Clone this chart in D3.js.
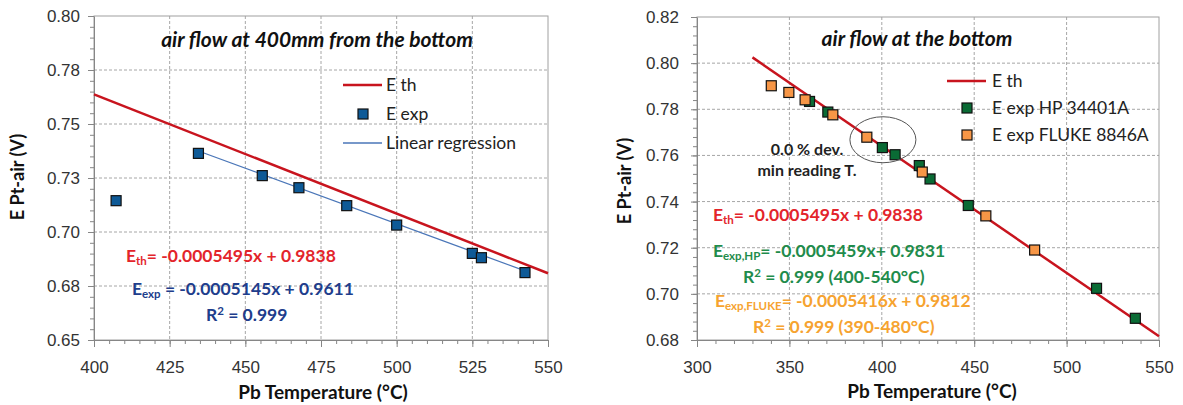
<!DOCTYPE html>
<html>
<head>
<meta charset="utf-8">
<script src="https://cdn.jsdelivr.net/npm/d3@7"></script>
<style>
  body { margin: 0; background: #fff; }
  svg { font-family: Lato, "Open Sans", sans-serif; }
  .grid line { stroke: #a6a6a6; stroke-dasharray: 3,2; }
  .axis path, .axis line { stroke: #868686; }
  .axis text { fill: #333; font-size: 17px; }
</style>
</head>
<body>
<svg width="1183" height="405"></svg>
<script>
d3.select(window).on('load', init);

//------------------------------------------------------------------------------
// left chart: air flow at 400mm from the bottom
var leftXTicks = [400, 425, 450, 475, 500, 525, 550];
var leftYTicks = [0.65, 0.675, 0.70, 0.725, 0.75, 0.775, 0.80];
var leftYLabels = ["0.65", "0.68", "0.70", "0.73", "0.75", "0.78", "0.80"];

var leftThT = [400, 550];
var leftThE = [0.7637, 0.6809];
var leftRegT = [434.5, 542.4];
var leftRegE = [0.7375, 0.6820];
var leftExpT = [407.3, 434.5, 455.6, 467.7, 483.5, 500.0, 525.0, 528.0, 542.4];
var leftExpE = [0.7145, 0.7364, 0.7261, 0.7205, 0.7122, 0.7032, 0.6901, 0.6881, 0.6812];

// right chart: air flow at the bottom
var rightXTicks = [300, 350, 400, 450, 500, 550];
var rightYTicks = [0.68, 0.70, 0.72, 0.74, 0.76, 0.78, 0.80, 0.82];
var rightYLabels = ["0.68", "0.70", "0.72", "0.74", "0.76", "0.78", "0.80", "0.82"];

var rightThT = [330, 550];
var rightThE = [0.8025, 0.6816];
var hpT = [360.9, 370.8, 400.3, 407.2, 420.3, 426.1, 446.8, 516.2, 537.2];
var hpE = [0.7834, 0.7788, 0.7634, 0.7603, 0.7556, 0.7498, 0.7383, 0.7024, 0.6894];
var flukeT = [340.2, 349.7, 358.5, 373.5, 391.9, 421.9, 456.3, 482.7];
var flukeE = [0.7902, 0.7873, 0.7841, 0.7776, 0.7679, 0.7528, 0.7338, 0.7190];
var circleT = 400.6, circleE = 0.7668;
//------------------------------------------------------------------------------

var red = "#c8141e", redText = "#e3242b";
var blueMarker = "#0e5a97", blueText = "#203d8c", regColor = "#4a76b8";
var green = "#0a6b35", greenText = "#1f8c4c";
var orange = "#f79646", orangeText = "#f6a330";

var svg;

function init() {
    svg = d3.select('svg');

    // ---- left chart
    var L = makeFrame({x0: 94, x1: 548, y0: 16, y1: 340},
        [400, 550], [0.65, 0.80], leftXTicks, leftYTicks, leftYLabels,
        d3.range(400, 551, 5), d3.range(0, 31).map(function(i){ return 0.65 + i*0.005; }), 14);

    L.g.append("line")
        .attr("x1", L.x(leftThT[0])).attr("y1", L.y(leftThE[0]))
        .attr("x2", L.x(leftThT[1])).attr("y2", L.y(leftThE[1]))
        .attr("stroke", red).attr("stroke-width", 2.5);

    L.g.append("line")
        .attr("x1", L.x(leftRegT[0])).attr("y1", L.y(leftRegE[0]))
        .attr("x2", L.x(leftRegT[1])).attr("y2", L.y(leftRegE[1]))
        .attr("stroke", regColor).attr("stroke-width", 1.3);

    drawMarkers(L, leftExpT, leftExpE, blueMarker);

    title(317, 47, "air flow at 400mm from the bottom");
    axisTitles(323, 399, 24, 177);

    // legend
    legendLine(343, 382, 85, red, 2.5);
    legendText(386, 85, "E th");
    legendSquare(363, 114, blueMarker);
    legendText(386, 114, "E exp");
    legendLine(343, 382, 143, regColor, 1.3);
    legendText(386, 143, "Linear regression");

    // equations
    equation(126, 262, redText, "E", "th", "= -0.0005495x + 0.9838");
    equation(132, 295, blueText, "E", "exp", " = -0.0005145x + 0.9611");
    rSquared(206, 321, blueText, " = 0.999");

    // ---- right chart
    var R = makeFrame({x0: 697, x1: 1159, y0: 17, y1: 340},
        [300, 550], [0.68, 0.82], rightXTicks, rightYTicks, rightYLabels,
        d3.range(300, 551, 10), d3.range(0, 36).map(function(i){ return 0.68 + i*0.004; }), 18);

    R.g.append("line")
        .attr("x1", R.x(rightThT[0])).attr("y1", R.y(rightThE[0]))
        .attr("x2", R.x(rightThT[1])).attr("y2", R.y(rightThE[1]))
        .attr("stroke", red).attr("stroke-width", 2.5);

    drawMarkers(R, hpT, hpE, green);
    drawMarkers(R, flukeT, flukeE, orange);

    R.g.append("ellipse")
        .attr("cx", R.x(circleT)).attr("cy", R.y(circleE))
        .attr("rx", 33).attr("ry", 23)
        .attr("fill", "none").attr("stroke", "#555").attr("stroke-width", 1);

    svg.append("text").attr("x", 807).attr("y", 155).attr("text-anchor", "middle")
        .attr("font-size", 16).attr("font-weight", "bold").attr("fill", "#222")
        .text("0.0 % dev.");
    svg.append("text").attr("x", 807).attr("y", 176).attr("text-anchor", "middle")
        .attr("font-size", 16).attr("font-weight", "bold").attr("fill", "#222")
        .text("min reading T.");

    title(917, 46, "air flow at the bottom");
    axisTitles(932, 398, 631, 181);

    legendLine(947, 986, 81, red, 2.5);
    legendText(992, 81, "E th");
    legendSquare(967, 108, green);
    legendText(992, 108, "E exp HP 34401A");
    legendSquare(967, 135, orange);
    legendText(992, 135, "E exp FLUKE 8846A");

    equation(713, 221, redText, "E", "th", "= -0.0005495x + 0.9838");
    equation(713, 257, greenText, "E", "exp,HP", "= -0.0005459x+ 0.9831");
    rSquared(743, 283, greenText, " = 0.999 (400-540°C)");
    equation(715, 307, orangeText, "E", "exp,FLUKE", "= -0.0005416x + 0.9812");
    rSquared(753, 333, orangeText, " = 0.999 (390-480°C)");
}

//---------------------------------------------------------------------
// frame with grid, border and axes
function makeFrame(box, xDom, yDom, xTicks, yTicks, yLabels, xMinor, yMinor, yPad) {
    var x = d3.scaleLinear().domain(xDom).range([box.x0, box.x1]);
    var y = d3.scaleLinear().domain(yDom).range([box.y1, box.y0]);
    var g = svg.append("g");

    g.append("g").attr("class", "grid")
     .selectAll("line.v")
     .data(xTicks.slice(1, -1))
     .enter().append("line")
     .attr("x1", function(d){ return x(d); }).attr("x2", function(d){ return x(d); })
     .attr("y1", box.y0).attr("y2", box.y1);

    g.append("g").attr("class", "grid")
     .selectAll("line.h")
     .data(yTicks.slice(1, -1))
     .enter().append("line")
     .attr("y1", function(d){ return y(d); }).attr("y2", function(d){ return y(d); })
     .attr("x1", box.x0).attr("x2", box.x1);

    g.append("rect")
     .attr("x", box.x0).attr("y", box.y0)
     .attr("width", box.x1 - box.x0).attr("height", box.y1 - box.y0)
     .attr("fill", "none").attr("stroke", "#a0a0a0");

    // minor ticks
    g.append("g").attr("class", "axis")
     .attr("transform", "translate(0," + box.y1 + ")")
     .call(d3.axisBottom(x).tickValues(xMinor).tickSize(4).tickFormat(""))
     .select(".domain").remove();
    g.append("g").attr("class", "axis")
     .attr("transform", "translate(" + box.x0 + ",0)")
     .call(d3.axisLeft(y).tickValues(yMinor).tickSize(4).tickFormat(""))
     .select(".domain").remove();

    g.append("g").attr("class", "axis")
     .attr("transform", "translate(0," + box.y1 + ")")
     .call(d3.axisBottom(x).tickValues(xTicks).tickSize(7).tickPadding(14)
        .tickFormat(d3.format("d")).tickSizeOuter(0));
    g.append("g").attr("class", "axis")
     .attr("transform", "translate(" + box.x0 + ",0)")
     .call(d3.axisLeft(y).tickValues(yTicks).tickSize(6).tickPadding(yPad - 6)
        .tickFormat(function(d, i){ return yLabels[i]; }).tickSizeOuter(0));

    return {x: x, y: y, g: g};
}

function drawMarkers(c, ts, es, fill) {
    c.g.append("g")
     .selectAll("rect")
     .data(ts.map(function(t, i){ return {t: t, e: es[i]}; }))
     .enter().append("rect")
     .attr("x", function(d){ return c.x(d.t) - 5; })
     .attr("y", function(d){ return c.y(d.e) - 5; })
     .attr("width", 10).attr("height", 10)
     .attr("fill", fill).attr("stroke", "#111").attr("stroke-width", 1.2);
}

function title(x, y, txt) {
    svg.append("text").attr("x", x).attr("y", y).attr("text-anchor", "middle")
       .attr("font-size", 21).attr("font-weight", "bold").attr("font-style", "italic")
       .attr("fill", "#111").text(txt);
}

function axisTitles(xx, xy, yx, yy) {
    svg.append("text").attr("x", xx).attr("y", xy).attr("text-anchor", "middle")
       .attr("font-size", 19).attr("font-weight", "bold").attr("fill", "#111")
       .text("Pb Temperature (°C)");
    svg.append("text").attr("transform", "translate(" + yx + "," + yy + ") rotate(-90)")
       .attr("text-anchor", "middle")
       .attr("font-size", 18).attr("font-weight", "bold").attr("fill", "#111")
       .text("E Pt-air (V)");
}

function legendLine(x1, x2, y, col, w) {
    svg.append("line").attr("x1", x1).attr("x2", x2).attr("y1", y).attr("y2", y)
       .attr("stroke", col).attr("stroke-width", w);
}
function legendSquare(x, y, col) {
    svg.append("rect").attr("x", x - 5).attr("y", y - 5).attr("width", 10).attr("height", 10)
       .attr("fill", col).attr("stroke", "#111").attr("stroke-width", 1.2);
}
function legendText(x, y, txt) {
    svg.append("text").attr("x", x).attr("y", y).attr("dy", "0.36em")
       .attr("font-size", 17.5).attr("fill", "#222").text(txt);
}

function equation(x, y, col, main, sub, rest) {
    var t = svg.append("text").attr("x", x).attr("y", y)
       .attr("font-size", 17.5).attr("font-weight", "bold").attr("fill", col);
    t.append("tspan").text(main);
    t.append("tspan").attr("font-size", 11.5).attr("dy", 3).text(sub);
    t.append("tspan").attr("dy", -3).text(rest);
}
function rSquared(x, y, col, rest) {
    var t = svg.append("text").attr("x", x).attr("y", y)
       .attr("font-size", 17.5).attr("font-weight", "bold").attr("fill", col);
    t.append("tspan").text("R");
    t.append("tspan").attr("font-size", 11.5).attr("dy", -6).text("2");
    t.append("tspan").attr("dy", 6).text(rest);
}
</script>
</body>
</html>
